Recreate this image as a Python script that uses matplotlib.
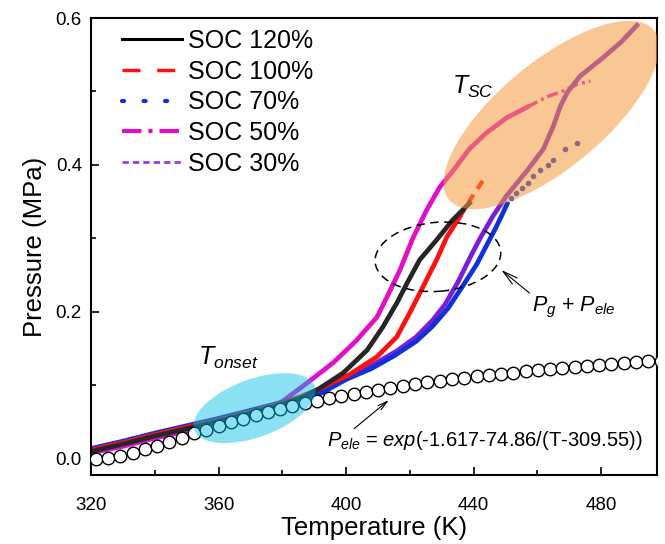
import numpy as np
import matplotlib
matplotlib.use('Agg')
import matplotlib.pyplot as plt
import matplotlib.transforms as mtransforms
from matplotlib.patches import Ellipse
from matplotlib.lines import Line2D

plt.rcParams['font.family'] = ['Liberation Sans', 'DejaVu Sans']
plt.rcParams['mathtext.fontset'] = 'custom'
plt.rcParams['mathtext.rm'] = 'Liberation Sans'
plt.rcParams['mathtext.it'] = 'Liberation Sans:italic'
plt.rcParams['mathtext.sf'] = 'Liberation Sans'
plt.rcParams['lines.scale_dashes'] = False

# ---- data ----
labels = ['SOC 120%', 'SOC 100%', 'SOC 70%', 'SOC 50%', 'SOC 30%']

# SOC 120% (black)
t120 = [320, 330, 340, 350, 360, 370, 380, 386, 391, 399.1, 406.6, 411.6, 415.9,
        419.1, 423.1, 428.4, 433.4, 438.7]
p120 = [0.010, 0.020, 0.031, 0.041, 0.051, 0.062, 0.074, 0.083, 0.094, 0.117, 0.148,
        0.180, 0.212, 0.239, 0.271, 0.298, 0.325, 0.348]

# SOC 100% (red), dense part + sparse tail
t100 = [320, 330, 340, 350, 360, 370, 380, 386, 391.9, 401.2, 409.7, 415.9, 420,
        424.1, 428.4, 431.6, 435.6]
p100 = [0.012, 0.022, 0.033, 0.043, 0.053, 0.064, 0.076, 0.085, 0.096, 0.115, 0.139,
        0.166, 0.199, 0.234, 0.271, 0.302, 0.329]
t100_tail = [435.6, 439.4, 443.1]
p100_tail = [0.329, 0.356, 0.380]

# SOC 70% (blue)
t70 = [320, 330, 340, 350, 360, 370, 380, 391.2, 400, 408, 415, 422, 427, 432, 437,
       441, 444, 447, 449, 450.5]
p70 = [0.014, 0.024, 0.035, 0.045, 0.055, 0.066, 0.077, 0.087, 0.108, 0.123, 0.140,
       0.160, 0.180, 0.205, 0.238, 0.265, 0.290, 0.315, 0.333, 0.347]
t70_tail = [451.6, 453.4, 455.3, 456.9, 458.7, 460.9, 463.4, 465, 468.7, 472.5]
p70_tail = [0.355, 0.362, 0.369, 0.376, 0.385, 0.393, 0.400, 0.407, 0.422, 0.430]

# SOC 50% (magenta)
t50 = [320, 330, 340, 350, 360, 370, 380, 388, 396, 403, 409.7, 412.8, 416.9, 420.9,
       425.3, 429.4, 433.7, 438.7, 444.1, 450.3, 456.9]
p50 = [0.008, 0.017, 0.028, 0.038, 0.049, 0.061, 0.078, 0.104, 0.131, 0.160, 0.193,
       0.220, 0.257, 0.300, 0.339, 0.370, 0.393, 0.422, 0.444, 0.464, 0.479]
t50_tail = [456.9, 463.1, 468.4, 472.5, 476.6]
p50_tail = [0.479, 0.493, 0.501, 0.510, 0.514]

# SOC 30% (purple)
t30 = [320, 330, 340, 350, 360, 370, 380, 391.2, 400, 408, 416, 422, 427, 431, 435,
       439, 442, 446, 450.3, 456.9, 461.9, 465, 467.2, 469.4, 473.4, 480, 486.2, 491.2]
p30 = [0.011, 0.021, 0.032, 0.042, 0.052, 0.063, 0.075, 0.091, 0.110, 0.127, 0.147,
       0.166, 0.188, 0.210, 0.240, 0.275, 0.300, 0.330, 0.358, 0.393, 0.422, 0.453,
       0.480, 0.499, 0.521, 0.544, 0.567, 0.590]

# P_ele (open circles)
t_ele = [321.5, 325.4, 329.2, 333.1, 336.9, 340.8, 344.6, 348.5, 352.3, 356.2, 360.0,
         363.9, 367.7, 371.6, 375.4, 379.3, 383.1, 387.0, 390.8, 394.7, 398.5, 402.4,
         406.2, 410.1, 413.9, 417.8, 421.6, 425.5, 429.3, 433.2, 437.0, 440.9, 444.7,
         448.6, 452.4, 456.3, 460.1, 464.0, 467.8, 471.7, 475.5, 479.4, 483.2, 487.1,
         490.9, 494.8, 498.6]
p_ele = [0.0004, 0.0018, 0.0044, 0.0083, 0.0129, 0.0181, 0.0235, 0.0290, 0.0345,
         0.0399, 0.0450, 0.0501, 0.0548, 0.0594, 0.0637, 0.0679, 0.0717, 0.0755,
         0.0790, 0.0824, 0.0856, 0.0886, 0.0915, 0.0943, 0.0969, 0.0994, 0.1018,
         0.1041, 0.1062, 0.1083, 0.1103, 0.1123, 0.1141, 0.1159, 0.1175, 0.1192,
         0.1207, 0.1223, 0.1237, 0.1251, 0.1264, 0.1278, 0.1290, 0.1302, 0.1314,
         0.1325, 0.1336]

xticks = [320, 360, 400, 440, 480]
yticks = [0.0, 0.2, 0.4, 0.6]

c_black = '#262626'
c_red = '#ff1010'
c_blue = '#1030d8'
c_mag = '#e010c8'
c_pur = '#7a1fd6'

fig = plt.figure(figsize=(6.65, 5.44), dpi=100)
ax = fig.add_axes([91 / 665, 1 - 475 / 544, 566 / 665, 457 / 544])

lw = 3.4
ax.plot(t50, p50, color=c_mag, lw=lw, zorder=2)
ax.plot(t50_tail, p50_tail, color=c_mag, lw=2.5, dashes=(8, 3, 2, 3), zorder=2)
ax.plot(t30, p30, color=c_pur, lw=lw, zorder=2)
ax.plot(t70, p70, color=c_blue, lw=lw, zorder=2)
ax.plot(t70_tail, p70_tail, 'o', color=c_blue, ms=3, zorder=2)
ax.plot(t120, p120, color=c_black, lw=lw, zorder=2.2)
ax.plot(t100, p100, color=c_red, lw=lw, zorder=2.1)
ax.plot(t100_tail, p100_tail, color=c_red, lw=3, dashes=(7, 5), zorder=2.1)

ax.plot(t_ele, p_ele, 'o', ms=9, mfc='white', mec='black', mew=1.0, zorder=3)

def add_ellipse(cx, cy, w, h, ang, **kw):
    tr = fig.dpi_scale_trans + mtransforms.ScaledTranslation(cx, cy, ax.transData)
    e = Ellipse((0, 0), w, h, angle=ang, transform=tr, **kw)
    ax.add_patch(e)

add_ellipse(371.3, 0.069, 1.28, 0.58, 20, facecolor='#00bfe8', alpha=0.45,
            edgecolor='none', zorder=4)
add_ellipse(464.4, 0.468, 2.66, 1.06, 39.7, facecolor='#f39a3c', alpha=0.55,
            edgecolor='none', zorder=4)
add_ellipse(428.8, 0.275, 1.26, 0.69, 5, facecolor='none', edgecolor='black',
            lw=1.1, linestyle=(0, (6, 4)), zorder=5)

ax.text(433.1, 0.497, r'$T_{SC}$', fontsize=18, ha='left', va='baseline')
ax.text(353.4, 0.128, r'$T_{onset}$', fontsize=18, ha='left', va='baseline')
ax.annotate(r'$P_g$ + $P_{ele}$', xy=(448.7, 0.257), xytext=(458.4, 0.200),
            fontsize=15.5, ha='left', va='baseline',
            arrowprops=dict(arrowstyle='->,head_length=0.7,head_width=0.18',
                            color='black', lw=0.8, shrinkA=0, shrinkB=0,
                            relpos=(0, 1)))
ax.text(394.1, 0.018, r'$P_{ele}$ = $exp$(-1.617-74.86/(T-309.55))',
        fontsize=14.5, ha='left', va='baseline')
ax.annotate('', xy=(413.4, 0.080), xytext=(402.5, 0.041),
            arrowprops=dict(arrowstyle='->,head_length=0.7,head_width=0.18',
                            color='black', lw=0.8, shrinkA=0, shrinkB=0))

ax.set_xlim(320, 497.5)
ax.set_ylim(-0.022, 0.6)
ax.set_xticks(xticks)
ax.set_xticks([340, 380, 420, 460], minor=True)
ax.set_yticks(yticks)
ax.set_yticks([0.1, 0.3, 0.5], minor=True)
ax.set_yticklabels(['0.0', '0.2', '0.4', '0.6'])
ax.tick_params(which='both', direction='in', top=False, right=False, width=1.2)
ax.tick_params(which='major', length=5.5)
ax.tick_params(which='minor', length=3.5)
ax.tick_params(axis='x', labelsize=13.5, pad=16)
ax.tick_params(axis='y', labelsize=13.5, pad=6.5)
for s in ax.spines.values():
    s.set_linewidth(1.5)

ax.set_xlabel('Temperature (K)', fontsize=18.5, labelpad=1)
ax.set_ylabel('Pressure (MPa)', fontsize=18.5, labelpad=6)

handles = [
    Line2D([], [], color='black', lw=2.2),
    Line2D([], [], color=c_red, lw=2.5, dashes=(13, 12)),
    Line2D([], [], color=c_blue, lw=3, dashes=(1.5, 14), dash_capstyle='round'),
    Line2D([], [], color=c_mag, lw=3, dashes=(14, 5, 3, 5)),
    Line2D([], [], color='#9040e0', lw=2, dashes=(4.5, 3)),
]
ax.legend(handles, labels, loc='upper left', bbox_to_anchor=(0.0548, 0.976),
          frameon=False, fontsize=18, handlelength=2.4, handletextpad=0.24,
          labelspacing=0.27, borderpad=0, borderaxespad=0)

fig.savefig('out.png', dpi=100)
